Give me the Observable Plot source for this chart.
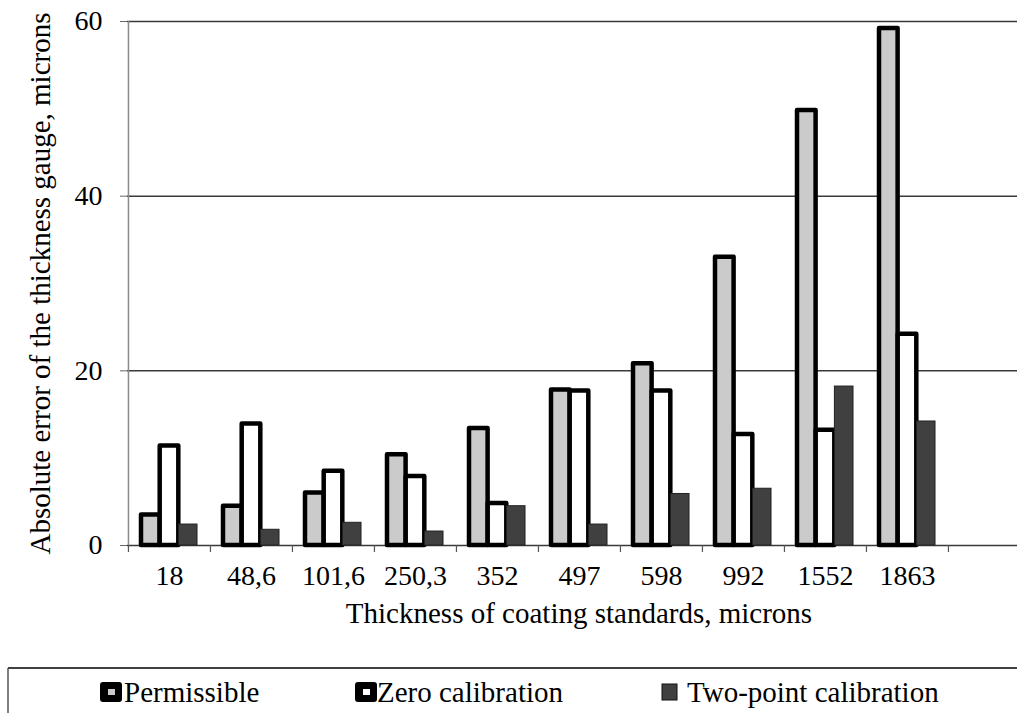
<!DOCTYPE html>
<html>
<head>
<meta charset="utf-8">
<script src="https://cdn.jsdelivr.net/npm/d3@7"></script>
<script src="https://cdn.jsdelivr.net/npm/@observablehq/plot@0.6"></script>
<style>
  html, body { margin: 0; padding: 0; background: #fff; overflow: hidden; }
  body { width: 1017px; height: 713px; position: relative; font-family: "Liberation Serif", "Times New Roman", serif; }
  #chart svg { display: block; }
  #legend { position: absolute; left: 0; top: 660px; }
</style>
</head>
<body>
<div id="chart"></div>
<div id="legend"></div>
<script>
// ---- data ----
const categories = ["18", "48,6", "101,6", "250,3", "352", "497", "598", "992", "1552", "1863"];
const slots = [...categories, " "]; // the original axis has one empty slot at the right
const permissible = [3.5, 4.5, 6.0, 10.4, 13.4, 17.8, 20.8, 33.0, 49.8, 59.2];
const zeroCalibration = [11.4, 13.9, 8.5, 7.9, 4.8, 17.7, 17.7, 12.7, 13.2, 24.2];
const twoPointCalibration = [2.4, 1.8, 2.6, 1.6, 4.5, 2.4, 5.9, 6.5, 18.2, 14.2];
const yTicks = [0, 20, 40, 60];
const gridTicks = [20, 40, 60];
const seriesNames = ["Permissible", "Zero calibration", "Two-point calibration"];
const xTitle = "Thickness of coating standards, microns";
const yTitle = "Absolute error of the thickness gauge, microns";

const rows = (vals) => categories.map((c, i) => ({cat: c, value: vals[i]}));

// ---- layout ----
const W = 1017, H = 660;
const mL = 127, mR = -13, mT = 21, mB = 115;
const bw = (W - mL - mR) / slots.length;
const g0 = 13, barW = 18.7;
const inset = (k) => ({insetLeft: g0 + k * barW, insetRight: bw - (g0 + (k + 1) * barW)});
const font = "Liberation Serif";

const chart = Plot.plot({
  width: W, height: H,
  marginLeft: mL, marginRight: mR, marginTop: mT, marginBottom: mB,
  style: {fontFamily: font, fontSize: "28px", color: "#000", background: "#fff"},
  x: {type: "band", domain: slots, padding: 0},
  y: {domain: [0, 60]},
  marks: [
    Plot.ruleY(gridTicks, {stroke: "#3a3a3a", strokeWidth: 1.5}),
    Plot.ruleY([0], {stroke: "#3a3a3a", strokeWidth: 1.5}),
    Plot.ruleX([slots[0]], {dx: -bw / 2, y1: 0, y2: 60, stroke: "#8a8a8a", strokeWidth: 1.5}),
    Plot.ruleX(slots, {dx: -bw / 2, y1: 0, y2: 0, insetBottom: -7, stroke: "#555", strokeWidth: 1.2}),
    Plot.barY(rows(permissible), {x: "cat", y: "value", fill: "#cbcbcb", stroke: "#000", strokeWidth: 4.5, strokeLinejoin: "round", ...inset(0)}),
    Plot.barY(rows(zeroCalibration), {x: "cat", y: "value", fill: "#fff", stroke: "#000", strokeWidth: 4.5, strokeLinejoin: "round", ...inset(1)}),
    Plot.barY(rows(twoPointCalibration), {x: "cat", y: "value", fill: "#404040", stroke: "#222", strokeWidth: 1, ...inset(2)}),
    Plot.axisY({ticks: yTicks, tickSize: 7, tickPadding: 18, label: null, fontSize: 28, stroke: "#666"}),
    Plot.axisX({tickSize: 0, tickPadding: 20, label: null, fontSize: 28}),
    Plot.text([xTitle], {frameAnchor: "bottom", dy: 68, dx: 0, fontSize: 29, lineAnchor: "middle", fill: "#000"}),
    Plot.text([yTitle], {frameAnchor: "left", dx: -87, rotate: -90, textAnchor: "middle", fontSize: 29, lineAnchor: "middle", fill: "#000"})
  ]
});
document.getElementById("chart").appendChild(chart);

// ---- legend ----
const leg = d3.select("#legend").append("svg").attr("width", W).attr("height", 53)
  .style("font-family", font).style("display", "block");
leg.append("line").attr("x1", 8).attr("x2", W).attr("y1", 8).attr("y2", 8).attr("stroke", "#000").attr("stroke-width", 1.5);
leg.append("line").attr("x1", 8).attr("x2", 8).attr("y1", 8).attr("y2", 53).attr("stroke", "#555").attr("stroke-width", 1.5);
const items = [
  {name: seriesNames[0], mx: 100, tx: 124, kind: "perm"},
  {name: seriesNames[1], mx: 355, tx: 377, kind: "zero"},
  {name: seriesNames[2], mx: 662, tx: 687, kind: "two"}
];
items.forEach(it => {
  if (it.kind === "two") {
    leg.append("rect").attr("x", it.mx).attr("y", 24).attr("width", 15).attr("height", 16)
      .attr("fill", "#404040").attr("stroke", "#111").attr("stroke-width", 1);
  } else {
    leg.append("rect").attr("x", it.mx).attr("y", 22).attr("width", 22).attr("height", 20).attr("rx", 3)
      .attr("fill", "#000");
    leg.append("rect").attr("x", it.mx + 8).attr("y", 29).attr("width", 7).attr("height", 6)
      .attr("fill", it.kind === "perm" ? "#cbcbcb" : "#fff");
  }
  leg.append("text").attr("x", it.tx).attr("y", 42).attr("font-size", 29).attr("fill", "#000").text(it.name);
});
</script>
</body>
</html>
